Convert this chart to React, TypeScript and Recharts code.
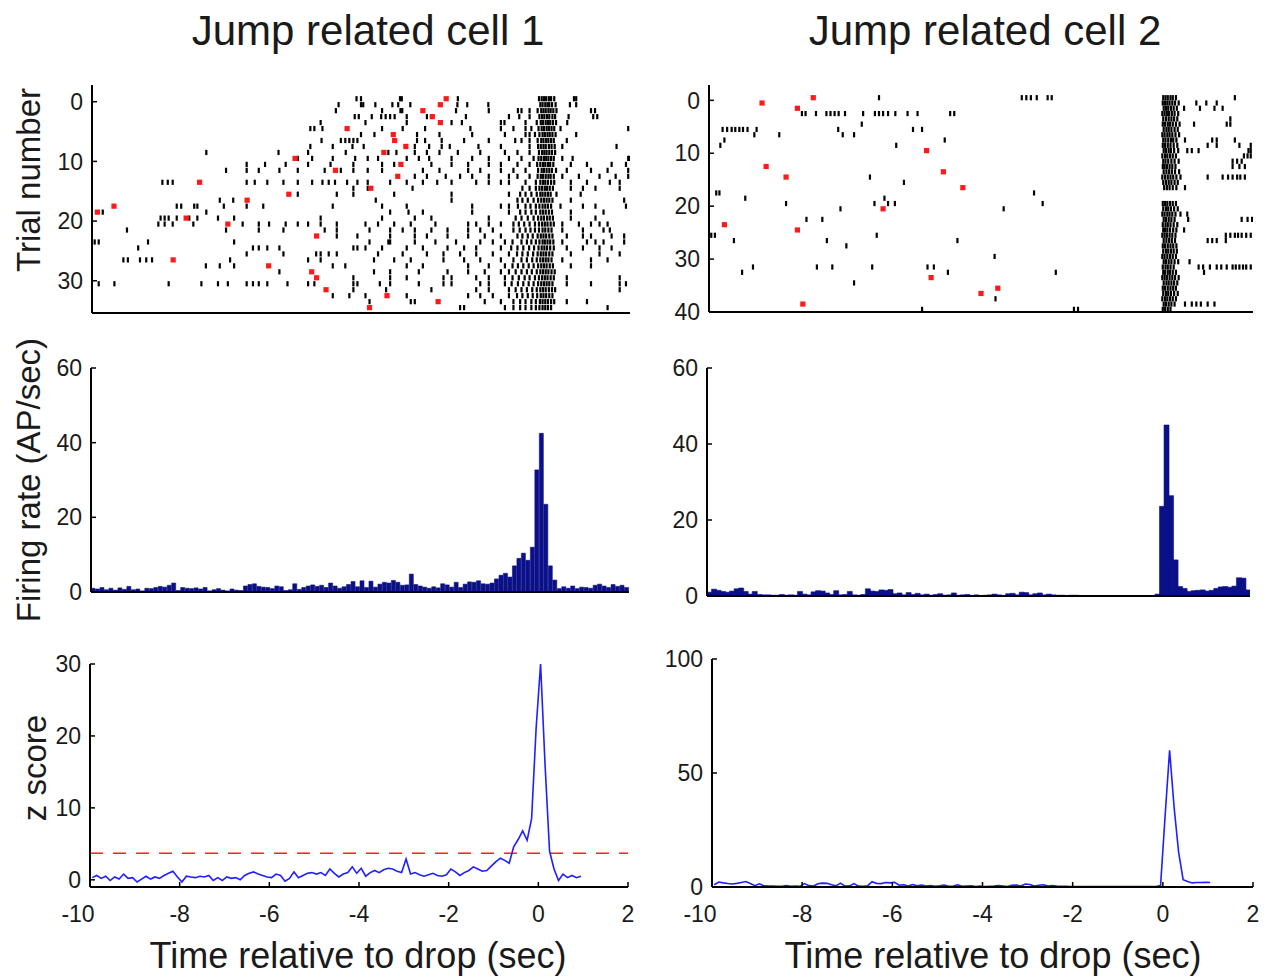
import { ScatterChart, Scatter, XAxis, YAxis, ComposedChart, Bar, LineChart, Line, ReferenceLine } from 'recharts';

// axis ticks
const timeTicks = [-10, -8, -6, -4, -2, 0, 2];
const cell1TrialTicks = [0, 10, 20, 30];
const cell2TrialTicks = [0, 10, 20, 30, 40];
const rateTicks = [0, 20, 40, 60];
const z1Ticks = [0, 10, 20, 30];
const z2Ticks = [0, 50, 100];
const z1Threshold = 3.7;

// spike times (sec) per trial, cell 1
const cell1Spikes: number[][] = [
  [-4.1, -4.0, -3.13, -3.09, -1.84, -0.03, 0.03, 0.08, 0.13, 0.19, 0.24, 0.31, 0.75, 0.8],
  [-4.5, -4.0, -3.95, -3.68, -3.3, -3.17, -2.9, -1.85, -1.63, -1.16, 0.0, 0.05, 0.11, 0.16, 0.2, 0.26, 0.34, 0.66, 0.8],
  [-4.56, -3.53, -3.12, -3.08, -1.88, -1.15, -0.5, -0.42, -0.24, -0.06, 0.02, 0.07, 0.12, 0.18, 0.23, 0.29, 0.36, 1.13, 1.22],
  [-4.14, -4.05, -3.76, -3.55, -3.45, -3.35, -3.25, -2.98, -2.53, -1.66, -0.7, -0.47, -0.24, -0.02, 0.04, 0.09, 0.15, 0.2, 0.27, 0.33, 0.63, 1.18, 1.27],
  [-4.9, -3.9, -2.98, -1.98, -1.75, -0.88, -0.8, -0.33, -0.08, 0.01, 0.06, 0.12, 0.17, 0.22, 0.28, 0.35, 0.6],
  [-5.13, -5.04, -4.86, -3.53, -3.07, -2.57, -1.56, -0.88, -0.6, -0.33, -0.2, -0.04, 0.03, 0.08, 0.14, 0.19, 0.25, 0.31, 0.45, 1.96],
  [-4.0, -3.7, -2.75, -2.25, -1.52, -0.79, -0.33, -0.24, -0.12, -0.02, 0.05, 0.1, 0.16, 0.21, 0.27, 0.34, 0.8],
  [-4.88, -4.45, -4.35, -4.26, -4.17, -4.08, -2.75, -2.57, -2.2, -1.7, -1.15, -0.56, -0.42, -0.24, -0.06, 0.02, 0.07, 0.13, 0.18, 0.24, 0.3, 0.59],
  [-5.13, -4.63, -4.19, -3.94, -2.98, -2.8, -2.48, -2.2, -2.02, -1.38, -0.88, -0.24, -0.05, 0.01, 0.07, 0.12, 0.19, 0.25, 0.32, 0.49, 1.7],
  [-7.45, -5.84, -5.18, -4.34, -3.39, -3.21, -2.8, -2.53, -2.25, -1.84, -1.34, -0.79, -0.51, -0.24, -0.03, 0.04, 0.09, 0.14, 0.2, 0.26, 0.33],
  [-5.41, -5.09, -4.63, -4.13, -3.85, -3.62, -2.98, -2.71, -2.48, -1.98, -1.52, -1.15, -0.7, -0.42, -0.15, -0.04, 0.02, 0.08, 0.13, 0.18, 0.24, 0.3, 0.49, 0.72, 1.96, 1.98],
  [-6.55, -6.14, -5.68, -5.18, -4.68, -4.17, -3.53, -3.26, -2.43, -1.98, -1.61, -1.15, -0.88, -0.51, -0.24, -0.07, 0.0, 0.06, 0.11, 0.17, 0.22, 0.29, 0.68, 1.04, 1.59, 1.91],
  [-7.01, -6.55, -6.28, -5.82, -5.41, -4.81, -4.45, -4.17, -3.85, -3.53, -2.62, -2.25, -1.61, -1.34, -0.88, -0.6, -0.33, -0.05, 0.03, 0.08, 0.14, 0.2, 0.26, 0.35, 0.59, 1.13, 1.5, 1.96],
  [-2.8, -2.53, -2.11, -1.79, -1.52, -1.15, -0.7, -0.51, -0.24, -0.06, 0.01, 0.06, 0.12, 0.18, 0.23, 0.3, 0.49, 0.86, 1.32, 1.68, 1.96],
  [-8.43, -8.31, -8.2, -6.55, -6.37, -6.09, -5.73, -5.41, -5.09, -4.86, -4.72, -4.58, -4.31, -4.08, -3.85, -3.35, -2.98, -2.62, -2.3, -1.98, -1.43, -1.15, -0.88, -0.7, -0.33, -0.1, 0.0, 0.06, 0.11, 0.17, 0.24, 0.31, 0.68, 1.04, 1.55, 1.77],
  [-4.17, -3.85, -2.85, -0.4, -0.24, -0.1, -0.02, 0.04, 0.1, 0.15, 0.21, 0.28, 0.68, 0.95, 1.23, 1.77],
  [-5.41, -4.54, -4.17, -3.26, -1.98, -0.7, -0.45, -0.33, -0.2, -0.08, 0.0, 0.05, 0.11, 0.17, 0.23, 0.36, 0.9],
  [-7.15, -6.85, -3.67, -1.98, -0.51, -0.4, -0.28, -0.15, -0.05, 0.02, 0.08, 0.14, 0.2, 0.27, 0.68, 1.87],
  [-8.11, -8.01, -7.72, -7.65, -7.06, -6.55, -6.18, -4.63, -3.53, -2.98, -1.52, -0.88, -0.7, -0.5, -0.33, -0.22, -0.1, -0.02, 0.05, 0.11, 0.17, 0.24, 0.45, 0.95, 1.23, 1.91],
  [-9.76, -7.45, -3.35, -2.94, -2.62, -1.52, -0.7, -0.45, -0.33, -0.2, -0.1, 0.0, 0.06, 0.12, 0.19, 0.26, 0.68, 1.41],
  [-8.47, -8.38, -8.29, -8.11, -7.83, -7.65, -7.19, -6.83, -4.9, -3.53, -2.8, -2.43, -1.15, -0.55, -0.42, -0.28, -0.15, -0.05, 0.02, 0.08, 0.15, 0.21, 0.28, 0.68, 1.23],
  [-8.52, -8.38, -8.2, -7.74, -6.64, -6.28, -6.05, -5.68, -5.41, -5.18, -4.9, -4.54, -3.9, -3.62, -3.26, -2.89, -2.34, -1.61, -1.43, -1.15, -0.88, -0.6, -0.48, -0.36, -0.24, -0.12, -0.03, 0.04, 0.1, 0.16, 0.23, 0.3, 0.49, 0.86, 1.13, 1.32, 1.5],
  [-9.22, -7.01, -6.28, -5.73, -4.81, -4.54, -3.81, -3.35, -3.07, -2.8, -2.43, -2.07, -1.61, -1.34, -1.06, -0.6, -0.46, -0.33, -0.22, -0.12, -0.03, 0.05, 0.11, 0.18, 0.25, 0.49, 0.95, 1.41, 1.55],
  [-4.54, -4.08, -3.35, -2.8, -2.53, -2.07, -1.61, -1.24, -0.88, -0.51, -0.4, -0.28, -0.17, -0.06, 0.01, 0.07, 0.13, 0.2, 0.27, 0.59, 0.95, 1.13, 1.59, 1.87],
  [-9.94, -9.85, -8.75, -6.83, -3.81, -3.39, -3.35, -2.8, -2.34, -1.88, -1.34, -1.06, -0.79, -0.62, -0.42, -0.3, -0.2, -0.1, -0.02, 0.05, 0.1, 0.16, 0.22, 0.29, 0.49, 1.04, 1.23, 1.41, 1.87],
  [-8.97, -6.41, -6.28, -6.09, -5.82, -4.17, -4.08, -3.9, -3.53, -2.98, -2.62, -2.07, -1.7, -1.43, -0.88, -0.65, -0.51, -0.38, -0.25, -0.14, -0.04, 0.03, 0.09, 0.15, 0.22, 0.3, 0.59, 0.95, 1.32, 1.59],
  [-6.55, -5.73, -5.0, -4.9, -4.72, -4.54, -3.62, -3.07, -2.53, -2.16, -1.79, -1.43, -1.06, -0.7, -0.52, -0.4, -0.28, -0.16, -0.06, 0.01, 0.07, 0.13, 0.2, 0.27, 0.68, 1.32, 1.77],
  [-9.3, -9.2, -8.93, -8.79, -8.66, -6.92, -5.18, -4.9, -3.71, -3.26, -2.89, -2.16, -1.7, -1.34, -0.88, -0.6, -0.42, -0.3, -0.18, -0.08, 0.0, 0.06, 0.12, 0.18, 0.25, 0.49, 1.13, 1.5],
  [-7.46, -7.15, -6.83, -4.63, -4.35, -2.98, -2.62, -1.61, -1.15, -0.79, -0.62, -0.5, -0.38, -0.26, -0.15, -0.05, 0.02, 0.08, 0.14, 0.21, 0.28, 0.68, 1.13],
  [-5.82, -3.71, -3.35, -2.71, -2.07, -1.61, -1.24, -0.88, -0.7, -0.55, -0.42, -0.3, -0.19, -0.08, 0.0, 0.06, 0.12, 0.18, 0.25, 0.32],
  [-4.17, -3.35, -2.98, -2.16, -1.98, -1.43, -1.15, -0.79, -0.62, -0.48, -0.35, -0.24, -0.12, -0.03, 0.04, 0.1, 0.16, 0.23, 0.3, 0.59, 1.77],
  [-9.85, -9.5, -8.29, -7.56, -7.19, -6.97, -6.55, -6.41, -6.28, -6.09, -5.64, -5.18, -5.04, -4.17, -4.08, -3.58, -3.35, -2.71, -2.16, -1.98, -1.34, -1.15, -0.79, -0.64, -0.5, -0.38, -0.26, -0.15, -0.05, 0.02, 0.08, 0.14, 0.2, 0.27, 0.59, 1.13, 1.77, 1.91],
  [-4.17, -3.44, -2.43, -1.43, -1.15, -0.7, -0.55, -0.42, -0.3, -0.18, -0.08, 0.0, 0.06, 0.12, 0.19, 0.26, 0.33, 1.77],
  [-4.63, -4.26, -3.9, -2.98, -1.61, -1.34, -1.06, -0.7, -0.52, -0.4, -0.28, -0.17, -0.07, 0.01, 0.07, 0.13, 0.2, 0.27],
  [-3.81, -2.89, -2.8, -1.24, -0.88, -0.6, -0.45, -0.33, -0.2, -0.1, -0.01, 0.05, 0.11, 0.17, 0.24, 0.31, 0.59, 1.04],
  [-1.79, -1.7, -0.79, -0.6, -0.45, -0.33, -0.2, -0.1, -0.02, 0.05, 0.11, 0.17, 0.24, 1.5],
];

// jump onset (red marks), cell 1
const cell1JumpTrials = [0, 1, 2, 3, 4, 5, 6, 7, 8, 9, 10, 11, 12, 13, 14, 15, 16, 17, 18, 19, 20, 21, 23, 27, 28, 29, 30, 32, 33, 34, 35];
const cell1JumpTimes = [-2.1, -2.23, -2.62, -2.41, -2.23, -4.31, -3.28, -3.25, -3.0, -3.49, -5.47, -3.11, -4.57, -3.18, -7.6, -3.78, -5.61, -6.54, -9.51, -9.88, -7.9, -6.97, -4.99, -8.19, -6.06, -5.1, -4.99, -4.78, -3.42, -2.28, -3.81];

// spike times (sec) per trial, cell 2
const cell2Spikes: number[][] = [
  [-6.25, -3.1, -3.0, -2.9, -2.77, -2.53, -2.44, 0.02, 0.07, 0.12, 0.18, 0.23, 0.3, 1.6],
  [0.01, 0.06, 0.11, 0.16, 0.22, 0.28, 0.36, 0.75, 0.97, 1.2],
  [0.03, 0.08, 0.13, 0.19, 0.25, 0.32, 0.48, 0.83, 1.15, 1.33],
  [-7.95, -7.87, -7.64, -7.41, -7.32, -7.23, -7.14, -7.0, -6.6, -6.34, -6.25, -6.16, -6.05, -5.89, -5.62, -5.4, -4.68, -4.59, 0.0, 0.05, 0.1, 0.15, 0.21, 0.27, 0.35],
  [0.02, 0.08, 0.14, 0.2, 0.26, 0.33, 1.5],
  [-6.63, 0.01, 0.06, 0.12, 0.17, 0.23, 0.3, 0.38, 0.7, 1.42, 1.5],
  [-9.7, -9.6, -9.5, -9.42, -9.33, -9.25, -9.15, -8.95, -7.15, -5.5, -5.3, 0.03, 0.09, 0.14, 0.2, 0.27, 0.34],
  [-9.0, -8.45, -7.05, -6.8, 0.0, 0.05, 0.11, 0.16, 0.22, 0.29, 0.37],
  [-9.66, -4.8, 0.02, 0.07, 0.13, 0.19, 0.24, 0.31, 0.5, 1.1, 1.2, 1.6],
  [-9.75, -5.87, 0.01, 0.06, 0.12, 0.18, 0.25, 0.33, 1.0, 1.2, 1.7, 1.95],
  [0.03, 0.08, 0.14, 0.19, 0.26, 0.35, 0.55, 0.65, 0.8, 1.9, 1.95],
  [0.0, 0.06, 0.11, 0.17, 0.23, 0.3, 1.8, 1.88, 1.95],
  [0.02, 0.07, 0.13, 0.2, 0.27, 0.36, 1.55, 1.65, 1.75],
  [0.01, 0.05, 0.1, 0.16, 0.22, 0.29, 1.55, 1.7, 1.82],
  [0.03, 0.09, 0.15, 0.21, 0.28, 0.37],
  [-6.45, 0.0, 0.06, 0.12, 0.18, 0.24, 0.31, 0.4, 1.0, 1.33, 1.45, 1.55, 1.65, 1.72, 1.82],
  [-5.7, 0.02, 0.08, 0.14, 0.2, 0.27, 0.34],
  [0.04, 0.1, 0.16, 0.23, 0.31, 0.5],
  [-9.84, -9.77, -2.83],
  [-9.2, -6.13],
  [-8.3, -6.35, -6.05, -5.9, -2.64, 0.01, 0.06, 0.11, 0.17, 0.23, 0.3],
  [-7.1, -3.5, 0.02, 0.08, 0.13, 0.19, 0.26, 0.34],
  [0.0, 0.05, 0.11, 0.16, 0.22, 0.29, 0.4, 0.55],
  [-7.85, -7.5, 0.03, 0.08, 0.14, 0.2, 0.27, 0.57, 1.75, 1.88, 1.98],
  [0.01, 0.07, 0.12, 0.18, 0.25, 0.33],
  [0.02, 0.06, 0.11, 0.17, 0.24, 0.31, 0.48],
  [-9.95, -9.87, -6.3, 0.0, 0.05, 0.1, 0.16, 0.22, 0.29, 1.4, 1.5, 1.6, 1.67, 1.75, 1.85, 1.95],
  [-9.45, -7.4, -4.52, 0.03, 0.09, 0.15, 0.21, 0.28, 1.0, 1.1, 1.2, 1.4],
  [-6.97, 0.01, 0.06, 0.12, 0.18, 0.24, 0.31],
  [0.02, 0.08, 0.13, 0.19, 0.25, 0.32],
  [-3.7, 0.0, 0.05, 0.11, 0.17, 0.23, 0.3],
  [0.03, 0.08, 0.14, 0.2, 0.27, 0.35, 0.6],
  [-9.03, -7.62, -7.28, -6.4, -5.18, -5.04, 0.01, 0.07, 0.12, 0.18, 0.25, 0.8, 0.9, 1.05, 1.2, 1.3, 1.42, 1.55, 1.62, 1.7, 1.78, 1.85, 1.95],
  [-9.27, -4.73, -2.35, 0.02, 0.06, 0.12, 0.17, 0.23, 0.3, 0.92],
  [0.0, 0.05, 0.1, 0.16, 0.22, 0.28, 0.36],
  [-6.8, 0.03, 0.09, 0.14, 0.2, 0.26, 0.33],
  [0.01, 0.06, 0.12, 0.18, 0.24, 0.3],
  [0.02, 0.08, 0.13, 0.19, 0.26, 0.34],
  [-3.68, 0.0, 0.06, 0.11, 0.17, 0.23, 0.3],
  [0.03, 0.08, 0.14, 0.2, 0.27, 0.5, 0.65, 0.75, 0.85, 1.0, 1.15],
  [-5.3, -1.95, -1.86, 0.01, 0.06, 0.12, 0.18],
];

const cell2JumpTrials = [0, 1, 2, 10, 13, 14, 15, 17, 21, 24, 25, 34, 36, 37, 39];
const cell2JumpTimes = [-7.7, -8.83, -8.05, -5.2, -8.74, -4.83, -8.3, -4.4, -6.16, -9.66, -8.05, -5.1, -3.63, -4.0, -7.93];

// firing rate (AP/sec), 100 ms bins from -10 to 2 s
const cell1Rate = [
  1.0, 0.8, 1.2, 0.6, 1.0, 0.5, 1.1, 0.7, 1.5, 0.6,
  0.8, 0.3, 1.0, 0.9, 1.2, 1.5, 1.3, 1.8, 2.4, 0.4,
  1.2, 1.0, 0.9, 1.1, 0.8, 1.2, 0.3, 0.6, 0.9, 0.5,
  0.3, 0.8, 0.5, 0.4, 1.6, 2.0, 2.2, 1.5, 1.3, 1.2,
  0.9, 1.6, 1.4, 0.4, 0.6, 2.2, 0.7, 1.2, 1.6, 1.9,
  1.5, 1.8, 1.2, 2.4, 1.6, 1.0, 1.4, 2.0, 2.8, 1.4,
  3.0, 1.2, 2.9, 1.3, 2.1, 2.6, 2.4, 3.1, 2.6, 1.8,
  1.9, 4.8, 2.0, 1.6, 1.3, 1.0, 1.4, 1.1, 2.2, 1.9,
  1.3, 2.6, 1.2, 2.1, 2.7, 2.6, 3.0, 2.2, 2.1, 2.4,
  3.5, 4.5, 5.0, 4.0, 7.0, 9.0, 10.4, 8.5, 12.0, 32.7,
  42.5, 23.5, 7.0, 3.2, 0.9, 1.4, 1.0, 1.6, 0.9, 1.3,
  1.2, 1.0, 1.8, 2.1, 1.6, 1.2, 2.0, 1.5, 1.8, 1.2,
];

const cell2Rate = [
  1.0, 1.8, 1.5, 1.2, 1.0, 1.3, 1.9, 2.1, 1.2, 0.5,
  1.2, 0.4, 0.3, 0.3, 0.2, 0.2, 0.4, 0.2, 0.3, 0.2,
  1.2, 0.5, 0.3, 1.1, 1.4, 1.3, 0.8, 0.4, 1.4, 0.3,
  0.4, 1.2, 0.3, 0.2, 0.4, 1.9, 1.3, 1.2, 1.6, 1.5,
  1.7, 0.6, 0.8, 0.3, 0.9, 0.4, 0.7, 0.3, 0.5, 0.2,
  0.4, 0.6, 0.2, 0.3, 0.8, 0.2, 0.3, 0.4, 0.1, 0.3,
  0.1, 0.2, 0.3, 0.5, 0.3, 0.1, 0.6, 0.7, 0.3, 1.0,
  0.9, 0.3, 0.6, 0.8, 0.3, 0.5, 0.3, 0.2, 0.2, 0.1,
  0.2, 0.2, 0.1, 0.1, 0.1, 0.1, 0.1, 0.1, 0.1, 0.1,
  0.1, 0.1, 0.1, 0.1, 0.1, 0.1, 0.1, 0.1, 0.1, 0.5,
  23.6, 45.0, 26.4, 9.5, 2.5, 2.0, 1.2, 1.4, 1.5, 1.6,
  1.3, 1.5, 2.0, 2.4, 2.5, 2.3, 2.6, 4.8, 4.7, 1.6,
];

// z score per bin, from -10 s
const cell1Z = [
  0.3, 0.6, 0.2, 0.5, -0.1, 0.4, 0.1, 0.8, 0.2, 0.3,
  -0.3, 0.1, 0.5, 0.1, 0.4, 0.2, 0.6, 0.9, 1.2, 0.4,
  -0.3, 0.5, 0.4, 0.3, 0.5, 0.4, 0.6, -0.1, 0.3, -0.1,
  0.4, 0.2, 0.3, 0.0, 0.6, 0.9, 1.1, 0.8, 0.6, 0.4,
  0.3, 0.8, 0.6, -0.2, 0.2, 1.1, 0.3, 0.6, 0.9, 1.0,
  0.8, 1.0, 0.6, 1.5, 0.9, 0.4, 0.8, 1.0, 1.8, 0.9,
  1.6, 0.5, 1.0, 1.3, 1.0, 1.4, 1.6, 1.5, 1.2, 1.0,
  2.9, 0.8, 1.0, 0.7, 0.5, 0.7, 0.9, 0.6, 0.5, 0.7,
  1.5, 1.1, 0.6, 1.0, 1.3, 1.8, 1.5, 1.2, 1.3, 1.9,
  2.5, 3.0, 2.7, 2.3, 4.6, 5.6, 6.8, 5.5, 8.5, 21.0,
  30.0, 16.0, 4.0, 1.5, -0.1, 0.8, 0.3, 0.6, 0.3, 0.5,
];

const cell2Z = [
  1.0, 2.2, 1.8, 1.5, 1.3, 1.6, 2.0, 2.4, 1.5, 0.6,
  1.4, 0.5, 0.4, 0.4, 0.3, 0.3, 0.6, 0.3, 0.4, 0.3,
  1.5, 0.6, 0.4, 1.4, 1.7, 1.6, 1.0, 0.5, 1.7, 0.4,
  0.5, 1.5, 0.4, 0.3, 0.5, 2.3, 1.6, 1.5, 2.0, 1.8,
  2.1, 0.8, 1.0, 0.4, 1.1, 0.5, 0.9, 0.4, 0.6, 0.3,
  0.5, 0.8, 0.3, 0.4, 1.0, 0.3, 0.4, 0.5, 0.2, 0.4,
  0.2, 0.3, 0.4, 0.6, 0.4, 0.2, 0.8, 0.9, 0.4, 1.3,
  1.1, 0.4, 0.8, 1.0, 0.4, 0.6, 0.4, 0.3, 0.3, 0.2,
  0.2, 0.2, 0.2, 0.2, 0.2, 0.2, 0.2, 0.2, 0.2, 0.2,
  0.2, 0.2, 0.2, 0.2, 0.2, 0.2, 0.2, 0.2, 0.2, 0.7,
  31.0, 60.0, 35.0, 15.3, 3.2, 2.4, 1.8, 2.0, 2.0, 2.1, 2.0,
];

const FONT = 'Arial, "Liberation Sans", Helvetica, sans-serif';
const NAVY = '#0b1089';
const GUT_L = 70;
const GUT_T = 18;
const GUT_R = 14;

type Box = { x0: number; x1: number; y0: number; y1: number };

const axisLine = { stroke: '#000', strokeWidth: 2 };
const tickLine = { stroke: '#000', strokeWidth: 1.5 };
const tickText = { fill: '#1a1a1a', fontSize: 23, fontFamily: FONT };

const binCenter = (i: number) => (i - 99.5) / 10;

const toBins = (vals: number[]) => vals.map((v, i) => ({ t: binCenter(i), v }));
const toRows = (rows: number[][]) =>
  rows.flatMap((row, k) => row.map((t) => ({ t, trial: k - 0.5 })));
const toJumps = (trials: number[], times: number[]) =>
  trials.map((k, i) => ({ t: times[i], trial: k - 0.5 }));

function place(box: Box, bottom: number) {
  return {
    style: { position: 'absolute' as const, left: box.x0 - GUT_L, top: box.y0 - GUT_T },
    width: box.x1 - box.x0 + GUT_L + GUT_R,
    height: box.y1 - box.y0 + GUT_T + bottom,
  };
}

const margin = { top: GUT_T, right: GUT_R, left: 0, bottom: 0 };

const SpikeMark = (p: any) => <rect x={p.cx - 1.1} y={p.cy - 2.6} width={2.2} height={5.2} fill="#000" />;
const JumpMark = (p: any) => <rect x={p.cx - 2.6} y={p.cy - 2.6} width={5.2} height={5.2} fill="#ff1a1a" />;

// MATLAB puts the "-10" label a little left of its tick
const TimeTick = (p: any) => (
  <text x={p.x + (p.payload.value === -10 ? -12 : 0)} y={p.y} dy="0.71em" textAnchor="middle"
    fill={tickText.fill} fontSize={tickText.fontSize} fontFamily={FONT}>
    {p.payload.value}
  </text>
);

function Raster({ box, rows, jumps, domain, ticks }: { box: Box; rows: number[][]; jumps: { t: number; trial: number }[]; domain: number[]; ticks: number[] }) {
  const p = place(box, 20);
  return (
    <div style={p.style}>
      <ScatterChart width={p.width} height={p.height} margin={margin}>
        <XAxis type="number" dataKey="t" domain={[-10, 2]} ticks={timeTicks} allowDataOverflow interval={0}
          tick={false} tickSize={-5} axisLine={axisLine} tickLine={tickLine} height={20} />
        <YAxis type="number" dataKey="trial" domain={domain} ticks={ticks} reversed allowDataOverflow interval={0}
          width={GUT_L} tickSize={-5} tickMargin={14} axisLine={axisLine} tickLine={tickLine} tick={tickText} />
        <Scatter data={toRows(rows)} shape={SpikeMark} isAnimationActive={false} />
        <Scatter data={jumps} shape={JumpMark} isAnimationActive={false} />
      </ScatterChart>
    </div>
  );
}

function RateHist({ box, rates }: { box: Box; rates: number[] }) {
  const p = place(box, 20);
  return (
    <div style={p.style}>
      <ComposedChart width={p.width} height={p.height} margin={margin} data={toBins(rates)} barCategoryGap={0} barGap={0}>
        <XAxis type="number" dataKey="t" domain={[-10, 2]} ticks={timeTicks} allowDataOverflow interval={0}
          tick={false} tickSize={-5} axisLine={axisLine} tickLine={tickLine} height={20} />
        <YAxis type="number" domain={[0, 60]} ticks={rateTicks} allowDataOverflow interval={0}
          width={GUT_L} tickSize={-5} tickMargin={14} axisLine={axisLine} tickLine={tickLine} tick={tickText} />
        <Bar dataKey="v" fill={NAVY} stroke={NAVY} strokeWidth={0.6} isAnimationActive={false} />
      </ComposedChart>
    </div>
  );
}

function ZTrace({ box, zs, domain, ticks, threshold }: { box: Box; zs: number[]; domain: number[]; ticks: number[]; threshold?: number }) {
  const p = place(box, 44);
  return (
    <div style={p.style}>
      <LineChart width={p.width} height={p.height} margin={margin} data={toBins(zs)}>
        <XAxis type="number" dataKey="t" domain={[-10, 2]} ticks={timeTicks} allowDataOverflow interval={0}
          tickSize={-5} tickMargin={24} axisLine={axisLine} tickLine={tickLine} tick={<TimeTick />} height={44} />
        <YAxis type="number" domain={domain} ticks={ticks} allowDataOverflow interval={0}
          width={GUT_L} tickSize={-5} tickMargin={14} axisLine={axisLine} tickLine={tickLine} tick={tickText} />
        {threshold !== undefined && (
          <ReferenceLine y={threshold} stroke="#ff2020" strokeWidth={1.6} strokeDasharray="13 10" />
        )}
        <Line type="linear" dataKey="v" stroke="#1f1fff" strokeWidth={1.6} dot={false} isAnimationActive={false} />
      </LineChart>
    </div>
  );
}

const textBase = { position: 'absolute' as const, fontFamily: FONT, color: '#1a1a1a', whiteSpace: 'nowrap' as const };

function Label({ x, y, size, rotate, children }: { x: number; y: number; size: number; rotate?: boolean; children: string }) {
  return (
    <div style={{ ...textBase, left: x, top: y, fontSize: size, lineHeight: 1.1,
      transform: `translate(-50%, -50%)${rotate ? ' rotate(-90deg)' : ''}` }}>
      {children}
    </div>
  );
}

export default function App() {
  return (
    <div style={{ position: 'absolute', left: 0, top: 0, width: 1277, height: 980, background: '#fff', overflow: 'hidden' }}>
      <Label x={368} y={31} size={42}>Jump related cell 1</Label>
      <Label x={985} y={31} size={42}>Jump related cell 2</Label>

      <Label x={29} y={180} size={33} rotate>Trial number</Label>
      <Label x={29} y={480} size={33} rotate>Firing rate (AP/sec)</Label>
      <Label x={35} y={768} size={33} rotate>z score</Label>

      <Raster box={{ x0: 92, x1: 630, y0: 85, y1: 313 }} rows={cell1Spikes}
        jumps={toJumps(cell1JumpTrials, cell1JumpTimes)} domain={[-2.8, 35.4]} ticks={cell1TrialTicks} />
      <Raster box={{ x0: 709, x1: 1253, y0: 85, y1: 312 }} rows={cell2Spikes}
        jumps={toJumps(cell2JumpTrials, cell2JumpTimes)} domain={[-2.9, 40]} ticks={cell2TrialTicks} />

      <RateHist box={{ x0: 91, x1: 629, y0: 368, y1: 592 }} rates={cell1Rate} />
      <RateHist box={{ x0: 707, x1: 1250, y0: 368, y1: 596 }} rates={cell2Rate} />

      <ZTrace box={{ x0: 90, x1: 628, y0: 664, y1: 887 }} zs={cell1Z} domain={[-1, 30]} ticks={z1Ticks} threshold={z1Threshold} />
      <ZTrace box={{ x0: 712, x1: 1253, y0: 659, y1: 887 }} zs={cell2Z} domain={[0, 100]} ticks={z2Ticks} />

      <Label x={358} y={956} size={36}>Time relative to drop (sec)</Label>
      <Label x={993} y={956} size={36}>Time relative to drop (sec)</Label>
    </div>
  );
}
